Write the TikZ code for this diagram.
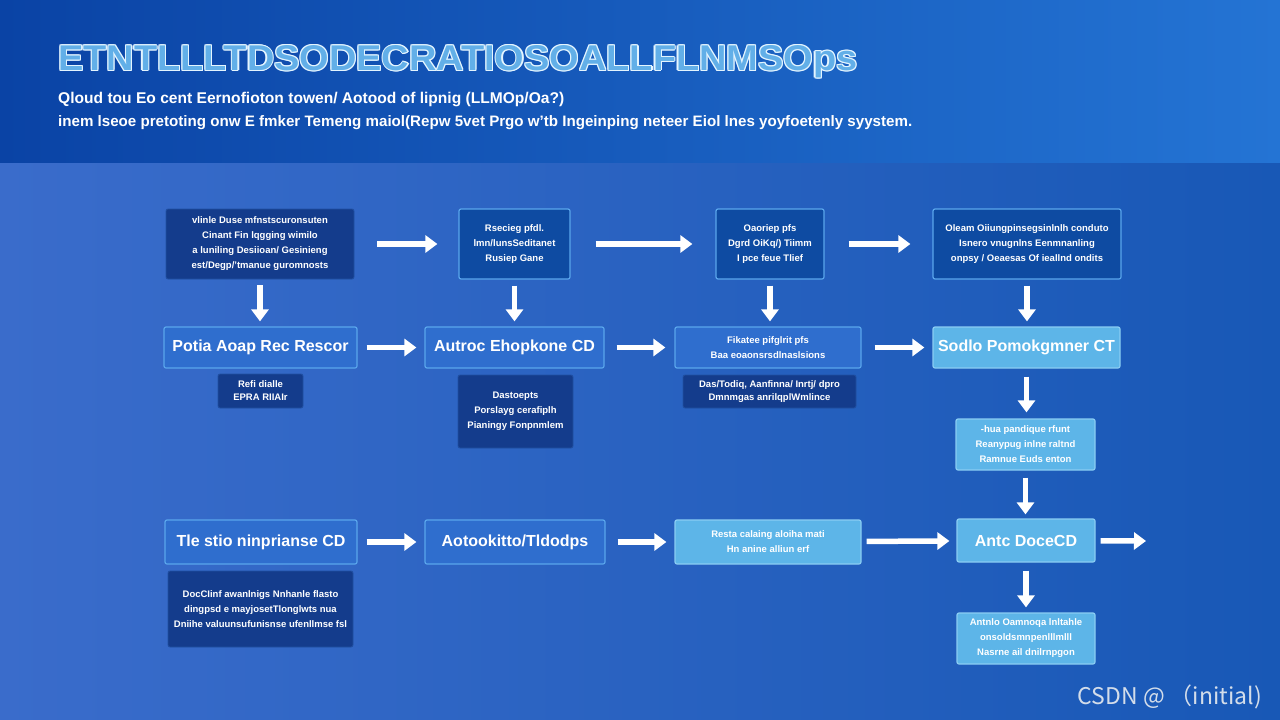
\documentclass[tikz,border=0pt]{standalone}
\usepackage{fontspec}
\usepackage{graphicx}
\setmainfont{Liberation Sans}
\newfontfamily\cjkf{Noto Sans CJK SC}
\usetikzlibrary{arrows.meta}
\definecolor{hdrL}{HTML}{0A43A5}
\definecolor{hdrR}{HTML}{2474D4}
\definecolor{bodyL}{HTML}{3A6CCB}
\definecolor{bodyM}{HTML}{3D88D8}
\definecolor{bodyR}{HTML}{1858B6}
\definecolor{navyc}{HTML}{143C8C}
\definecolor{navyb}{HTML}{2150A2}
\definecolor{deepc}{HTML}{0E4BA2}
\definecolor{midc}{HTML}{2F6ECE}
\definecolor{edgec}{HTML}{5AA6EC}
\definecolor{litec}{HTML}{5DB5E8}
\definecolor{liteb}{HTML}{8ACDF3}
\definecolor{ttlin}{HTML}{62AFE8}
\definecolor{ttlout}{HTML}{E4F5FF}
\definecolor{wmc}{HTML}{D3DDEA}
\newcommand\mytitletext{\resizebox{799pt}{25pt}{\bfseries ETNTLLLTDSODECRATIOSOALLFLNMSOps}}
\tikzset{
  bx/.style={rounded corners=2pt, align=center, text=white, inner sep=0pt,
    font=\bfseries\fontsize{9.5}{15}\selectfont},
  navy/.style={bx, fill=navyc, draw=navyb, line width=0.8pt},
  deep/.style={bx, fill=deepc, draw=edgec, line width=1.2pt},
  mid/.style={bx, fill=midc, draw=edgec, line width=1.2pt},
  lite/.style={bx, fill=litec, draw=liteb, line width=1.2pt},
  big/.style={font=\bfseries\fontsize{16}{19}\selectfont},
  arr/.style={draw=white, line width=5.5pt, -{Triangle[width=17pt,length=12pt]}},
}
\begin{document}
\begin{tikzpicture}[x=1pt,y=-1pt]
\useasboundingbox (0,0) rectangle (1280,720);
% background
\shade[left color=bodyL, middle color=bodyM, right color=bodyR] (0,0) rectangle (1280,720);
\shade[left color=hdrL, right color=hdrR] (0,0) rectangle (1280,162);
% title (outlined look)
\foreach \dx/\dy [count=\i] in {-1.2/0,1.2/0,0/-1.2,0/1.2,-0.9/-0.9,0.9/0.9,-0.9/0.9,0.9/-0.9}
  \node[anchor=west, inner sep=0pt, text=ttlout] (tt\i) at (58+\dx,62+\dy) {\mytitletext};
\node[anchor=west, inner sep=0pt, text=ttlin] (title) at (58,62) {\mytitletext};
\node[anchor=west, inner sep=0pt, text=white] (sub1) at (58,100)
  {\resizebox{506pt}{!}{\bfseries Qloud tou Eo cent Eernofioton towen/ Aotood of lipnig (LLMOp/Oa?)}};
\node[anchor=west, inner sep=0pt, text=white] (sub2) at (58,123)
  {\resizebox{854pt}{!}{\bfseries inem lseoe pretoting onw E fmker Temeng maiol(Repw 5vet Prgo w'tb Ingeinping neteer Eiol lnes yoyfoetenly syystem.}};
% row 1
\node[navy, minimum width=188pt, minimum height=70pt] (a1) at (260,244)
  {vlinle Duse mfnstscuronsuten\\Cinant Fin lqgging wimilo\\a luniling Desiioan/ Gesinieng\\est/Degp/'tmanue guromnosts};
\node[deep, minimum width=111pt, minimum height=70pt] (a2) at (514.5,244)
  {Rsecieg pfdl.\\lmn/lunsSeditanet\\Rusiep Gane};
\node[deep, minimum width=108pt, minimum height=70pt] (a3) at (770,244)
  {Oaoriep pfs\\Dgrd OiKq/) Tiimm\\I pce feue Tlief};
\node[deep, minimum width=188pt, minimum height=70pt] (a4) at (1027,244)
  {Oleam Oiiungpinsegsinlnlh conduto\\Isnero vnugnlns Eenmnanling\\onpsy / Oeaesas Of ieallnd ondits};
% row 2
\node[mid, big, minimum width=193pt, minimum height=41pt] (b1) at (260.5,347.5) {Potia Aoap Rec Rescor};
\node[mid, big, minimum width=179pt, minimum height=41pt] (b2) at (514.5,347.5) {Autroc Ehopkone CD};
\node[mid, minimum width=186pt, minimum height=41pt] (b3) at (768,347.5)
  {Fikatee pifglrit pfs\\Baa eoaonsrsdlnaslsions};
\node[lite, big, minimum width=187pt, minimum height=41pt] (b4) at (1026.5,347.5) {Sodlo Pomokgmner CT};
% details under row 2
\node[navy, minimum width=85pt, minimum height=34pt, font=\bfseries\fontsize{9.5}{13}\selectfont] (c1) at (260.5,391)
  {Refi dialle\\EPRA RIIAIr};
\node[navy, minimum width=115pt, minimum height=73pt] (c2) at (515.5,411.5)
  {Dastoepts\\Porslayg cerafiplh\\Pianingy Fonpnmlem};
\node[navy, minimum width=173pt, minimum height=33pt, font=\bfseries\fontsize{9.5}{13}\selectfont] (c3) at (769.5,391.5)
  {Das/Todiq, Aanfinna/ Inrtj/ dpro\\Dmnmgas anrilqplWmlince};
\node[lite, minimum width=139pt, minimum height=51pt] (c4) at (1025.5,444.5)
  {-hua pandique rfunt\\Reanypug inlne raltnd\\Ramnue Euds enton};
% row 3
\node[mid, big, minimum width=192pt, minimum height=44pt] (d1) at (261,542) {Tle stio ninprianse CD};
\node[mid, big, minimum width=180pt, minimum height=44pt] (d2) at (515,542) {Aotookitto/Tldodps};
\node[lite, minimum width=186pt, minimum height=44pt] (d3) at (768,542)
  {Resta calaing aloiha mati\\Hn anine alliun erf};
\node[lite, big, minimum width=138pt, minimum height=43pt] (d4) at (1026,540.5) {Antc DoceCD};
\coordinate (dout) at (1146,541);
\node[navy, minimum width=185pt, minimum height=76pt] (e1) at (260.5,609)
  {DocCIinf awanlnigs Nnhanle flasto\\dingpsd e mayjosetTlonglwts nua\\Dniihe valuunsufunisnse ufenllmse fsl};
\node[lite, minimum width=138pt, minimum height=51pt] (e4) at (1026,638.5)
  {Antnlo Oamnoqa lnltahle\\onsoldsmnpenlllmlll\\Nasrne ail dnilrnpgon};
% arrows row 1
\draw[arr, shorten <=23pt, shorten >=21pt] (a1) -- (a2);
\draw[arr, shorten <=25pt, shorten >=23pt] (a2) -- (a3);
\draw[arr, shorten <=24pt, shorten >=22pt] (a3) -- (a4);
% vertical row1 -> row2
\draw[arr, shorten <=6pt, shorten >=5pt] (a1.south) -- (a1.south |- b1.north);
\draw[arr, shorten <=6pt, shorten >=5pt] (a2.south) -- (a2.south |- b2.north);
\draw[arr, shorten <=6pt, shorten >=5pt] (a3.south) -- (a3.south |- b3.north);
\draw[arr, shorten <=6pt, shorten >=5pt] (a4.south) -- (a4.south |- b4.north);
% arrows row 2
\draw[arr, shorten <=9pt, shorten >=8pt] (b1) -- (b2);
\draw[arr, shorten <=12pt, shorten >=9pt] (b2) -- (b3);
\draw[arr, shorten <=13pt, shorten >=8pt] (b3) -- (b4);
% right column
\draw[arr, shorten <=8pt, shorten >=6pt] (b4.south) -- (b4.south |- c4.north);
\draw[arr, shorten <=7pt, shorten >=4pt] (c4.south) -- (c4.south |- d4.north);
\draw[arr, shorten <=8pt, shorten >=5pt] (d4.south) -- (d4.south |- e4.north);
% arrows row 3
\draw[arr, shorten <=9pt, shorten >=8pt] (d1) -- (d2);
\draw[arr, shorten <=12pt, shorten >=8pt] (d2) -- (d3);
\draw[arr, shorten <=5pt, shorten >=7pt] (d3) -- (d4);
\draw[arr, shorten <=5pt] (d4) -- (dout);
% watermark
\node[anchor=east, inner sep=0pt, text=wmc] (wm) at (1262,697)
  {\resizebox{184pt}{!}{\cjkf CSDN @ （initial)}};
\end{tikzpicture}
\end{document}
